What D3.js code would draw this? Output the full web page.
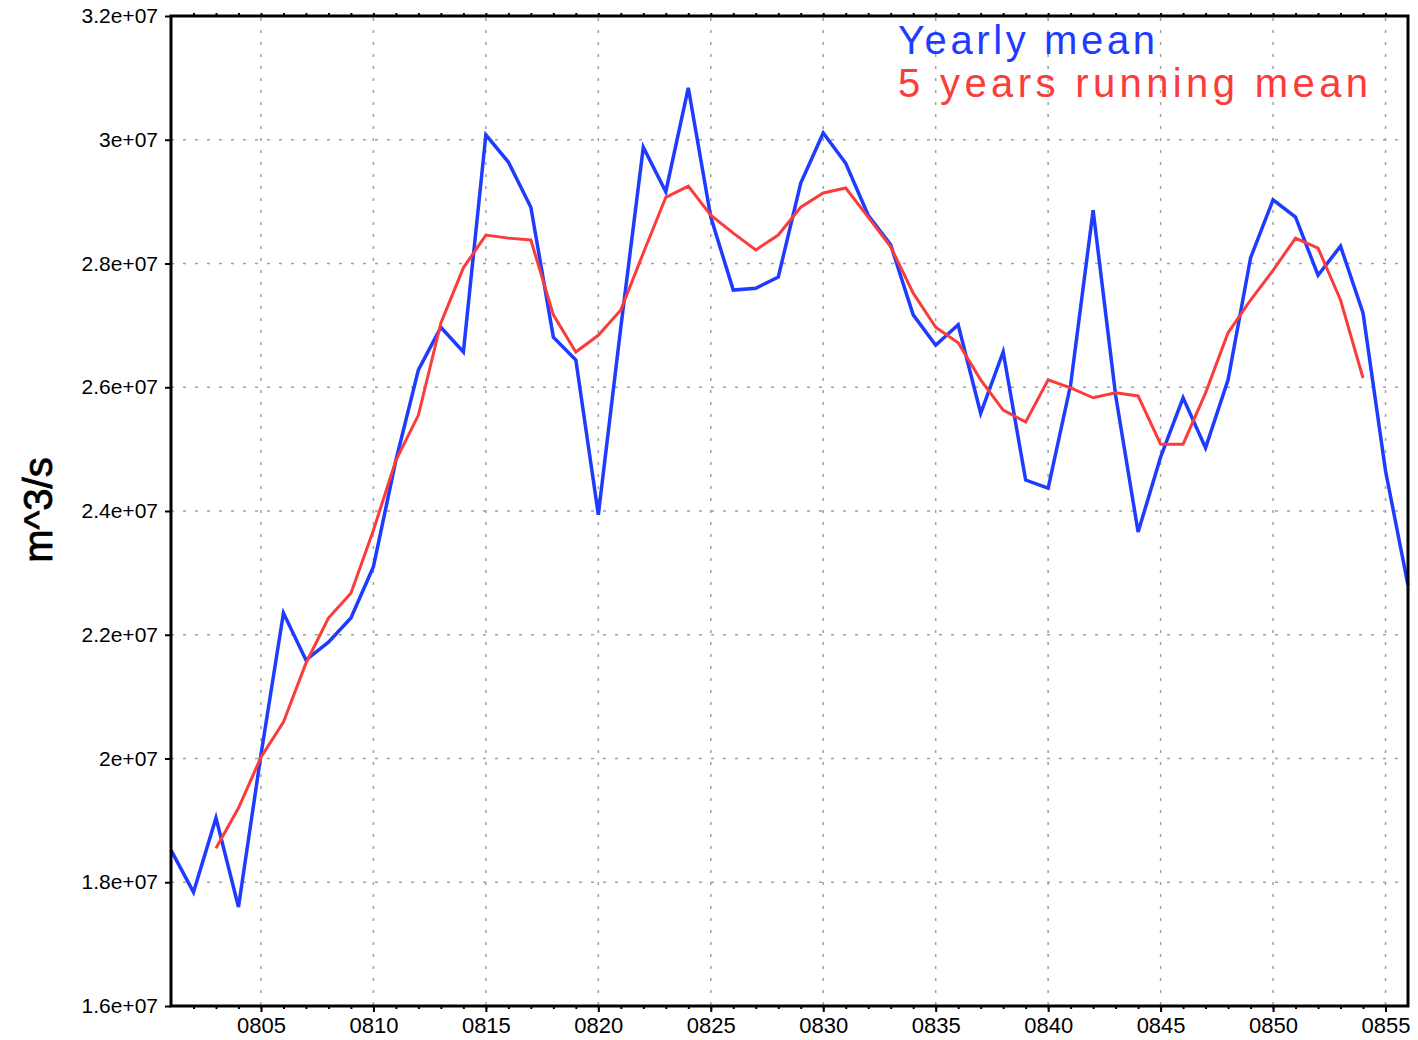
<!DOCTYPE html>
<html>
<head>
<meta charset="utf-8">
<script src="https://cdn.jsdelivr.net/npm/d3@7"></script>
<style>
  body { margin: 0; background: #fff; }
  svg { display: block; }
</style>
</head>
<body>
<div id="chart"></div>
<script>
// years of the series
var years = d3.range(801, 857);

// yearly mean, m^3/s
var yearlyMean = [
  1.852e7, 1.784e7, 1.904e7, 1.760e7, 2.006e7, 2.235e7, 2.159e7, 2.188e7, 2.227e7, 2.310e7,
  2.482e7, 2.628e7, 2.697e7, 2.657e7, 3.008e7, 2.964e7, 2.891e7, 2.681e7, 2.644e7, 2.394e7,
  2.697e7, 2.988e7, 2.916e7, 3.084e7, 2.875e7, 2.757e7, 2.760e7, 2.778e7, 2.930e7, 3.011e7,
  2.962e7, 2.878e7, 2.830e7, 2.717e7, 2.668e7, 2.701e7, 2.558e7, 2.657e7, 2.450e7, 2.437e7,
  2.604e7, 2.886e7, 2.587e7, 2.366e7, 2.487e7, 2.583e7, 2.502e7, 2.612e7, 2.809e7, 2.903e7,
  2.875e7, 2.781e7, 2.828e7, 2.720e7, 2.465e7, 2.280e7
];

// 5 years running mean, 803..854
var runYears = d3.range(803, 855);
var runningMean = [
  1.855e7, 1.920e7, 2.002e7, 2.059e7, 2.154e7, 2.227e7, 2.267e7, 2.369e7, 2.482e7, 2.555e7,
  2.704e7, 2.793e7, 2.846e7, 2.841e7, 2.838e7, 2.717e7, 2.657e7, 2.684e7, 2.725e7, 2.817e7,
  2.907e7, 2.925e7, 2.878e7, 2.849e7, 2.822e7, 2.846e7, 2.891e7, 2.914e7, 2.922e7, 2.875e7,
  2.827e7, 2.752e7, 2.697e7, 2.672e7, 2.612e7, 2.563e7, 2.544e7, 2.612e7, 2.599e7, 2.583e7,
  2.591e7, 2.586e7, 2.508e7, 2.508e7, 2.591e7, 2.688e7, 2.741e7, 2.789e7, 2.841e7, 2.825e7,
  2.741e7, 2.615e7
];

// axis ticks
var xTicks = [805, 810, 815, 820, 825, 830, 835, 840, 845, 850, 855];
var xTickLabels = ["0805", "0810", "0815", "0820", "0825", "0830", "0835", "0840", "0845", "0850", "0855"];
var yTicks = [1.6e7, 1.8e7, 2.0e7, 2.2e7, 2.4e7, 2.6e7, 2.8e7, 3.0e7, 3.2e7];
var yTickLabels = ["1.6e+07", "1.8e+07", "2e+07", "2.2e+07", "2.4e+07", "2.6e+07", "2.8e+07", "3e+07", "3.2e+07"];

var legendLabels = ["Yearly mean", "5 years running mean"];
var legendColors = ["#1e3cff", "#fa3c3c"];

var W = 1418, H = 1040;
var plotLeft = 171, plotRight = 1408, plotTop = 16, plotBottom = 1006;

var svg = d3.select("#chart").append("svg")
  .attr("width", W)
  .attr("height", H);

var x = d3.scaleLinear().domain([801, 856]).range([plotLeft, plotRight]);
var y = d3.scaleLinear().domain([1.6e7, 3.2e7]).range([plotBottom, plotTop]);

// dotted grid
var grid = svg.append("g").attr("stroke", "#a0a0a0").attr("stroke-width", 1.5)
  .attr("stroke-dasharray", "3,9");
grid.selectAll(".gx").data(xTicks).enter().append("line")
  .attr("x1", function (d) { return x(d); })
  .attr("x2", function (d) { return x(d); })
  .attr("y1", plotTop + 2).attr("y2", plotBottom);
grid.selectAll(".gy").data(yTicks.slice(1, -1)).enter().append("line")
  .attr("y1", function (d) { return y(d); })
  .attr("y2", function (d) { return y(d); })
  .attr("x1", plotLeft).attr("x2", plotRight);

// lines
var line = d3.line()
  .x(function (d) { return x(d[0]); })
  .y(function (d) { return y(d[1]); });

svg.append("path")
  .datum(d3.zip(years, yearlyMean))
  .attr("fill", "none")
  .attr("stroke", legendColors[0])
  .attr("stroke-width", 3.5)
  .attr("d", line);

svg.append("path")
  .datum(d3.zip(runYears, runningMean))
  .attr("fill", "none")
  .attr("stroke", legendColors[1])
  .attr("stroke-width", 3)
  .attr("d", line);

// bottom axis: minor ticks every year, labelled every 5 years
var xAxisMinor = d3.axisBottom(x).tickValues(d3.range(802, 856)).tickSize(3).tickFormat("");
svg.append("g")
  .attr("transform", "translate(0," + plotBottom + ")")
  .call(xAxisMinor)
  .call(function (g) { g.select(".domain").remove(); g.selectAll("line").attr("stroke-width", 2); });

var xAxis = d3.axisBottom(x)
  .tickValues(xTicks)
  .tickSize(6)
  .tickPadding(5)
  .tickFormat(function (d, i) { return xTickLabels[i]; });
svg.append("g")
  .attr("transform", "translate(0," + plotBottom + ")")
  .call(xAxis)
  .call(function (g) {
    g.select(".domain").remove();
    g.selectAll("line").attr("stroke-width", 2);
    g.selectAll("text")
      .style("font-family", "'Liberation Sans', Arial, sans-serif")
      .style("font-size", "22px")
      .attr("fill", "#000");
  });

// top minor ticks
var xAxisTop = d3.axisTop(x).tickValues(d3.range(802, 856)).tickSize(3).tickFormat("");
svg.append("g")
  .attr("transform", "translate(0," + plotTop + ")")
  .call(xAxisTop)
  .call(function (g) { g.select(".domain").remove(); g.selectAll("line").attr("stroke-width", 2); });

// left axis
var yAxis = d3.axisLeft(y)
  .tickValues(yTicks)
  .tickSize(6)
  .tickPadding(7)
  .tickFormat(function (d, i) { return yTickLabels[i]; });
svg.append("g")
  .attr("transform", "translate(" + plotLeft + ",0)")
  .call(yAxis)
  .call(function (g) {
    g.select(".domain").remove();
    g.selectAll("line").attr("stroke-width", 2);
    g.selectAll("text")
      .style("font-family", "'Liberation Sans', Arial, sans-serif")
      .style("font-size", "21px")
      .attr("fill", "#000");
  });

// frame
svg.append("rect")
  .attr("x", plotLeft).attr("y", plotTop)
  .attr("width", plotRight - plotLeft).attr("height", plotBottom - plotTop)
  .attr("fill", "none")
  .attr("stroke", "#000")
  .attr("stroke-width", 3);

// y axis title
svg.append("text")
  .attr("transform", "translate(52,510) rotate(-90)")
  .attr("text-anchor", "middle")
  .style("font-family", "'Liberation Sans', Arial, sans-serif")
  .style("font-size", "40px")
  .attr("fill", "#000")
  .attr("stroke", "#000")
  .attr("stroke-width", 0.8)
  .text("m^3/s");

// legend
var legendY = [54, 97];
var legendLen = [257, 470];
svg.selectAll(".legend").data(legendLabels).enter().append("text")
  .attr("x", 898)
  .attr("y", function (d, i) { return legendY[i]; })
  .attr("textLength", function (d, i) { return legendLen[i]; })
  .attr("lengthAdjust", "spacing")
  .style("font-family", "'Liberation Sans', Arial, sans-serif")
  .style("font-size", "40px")
  .attr("fill", function (d, i) { return legendColors[i]; })
  .text(function (d) { return d; });
</script>
</body>
</html>
